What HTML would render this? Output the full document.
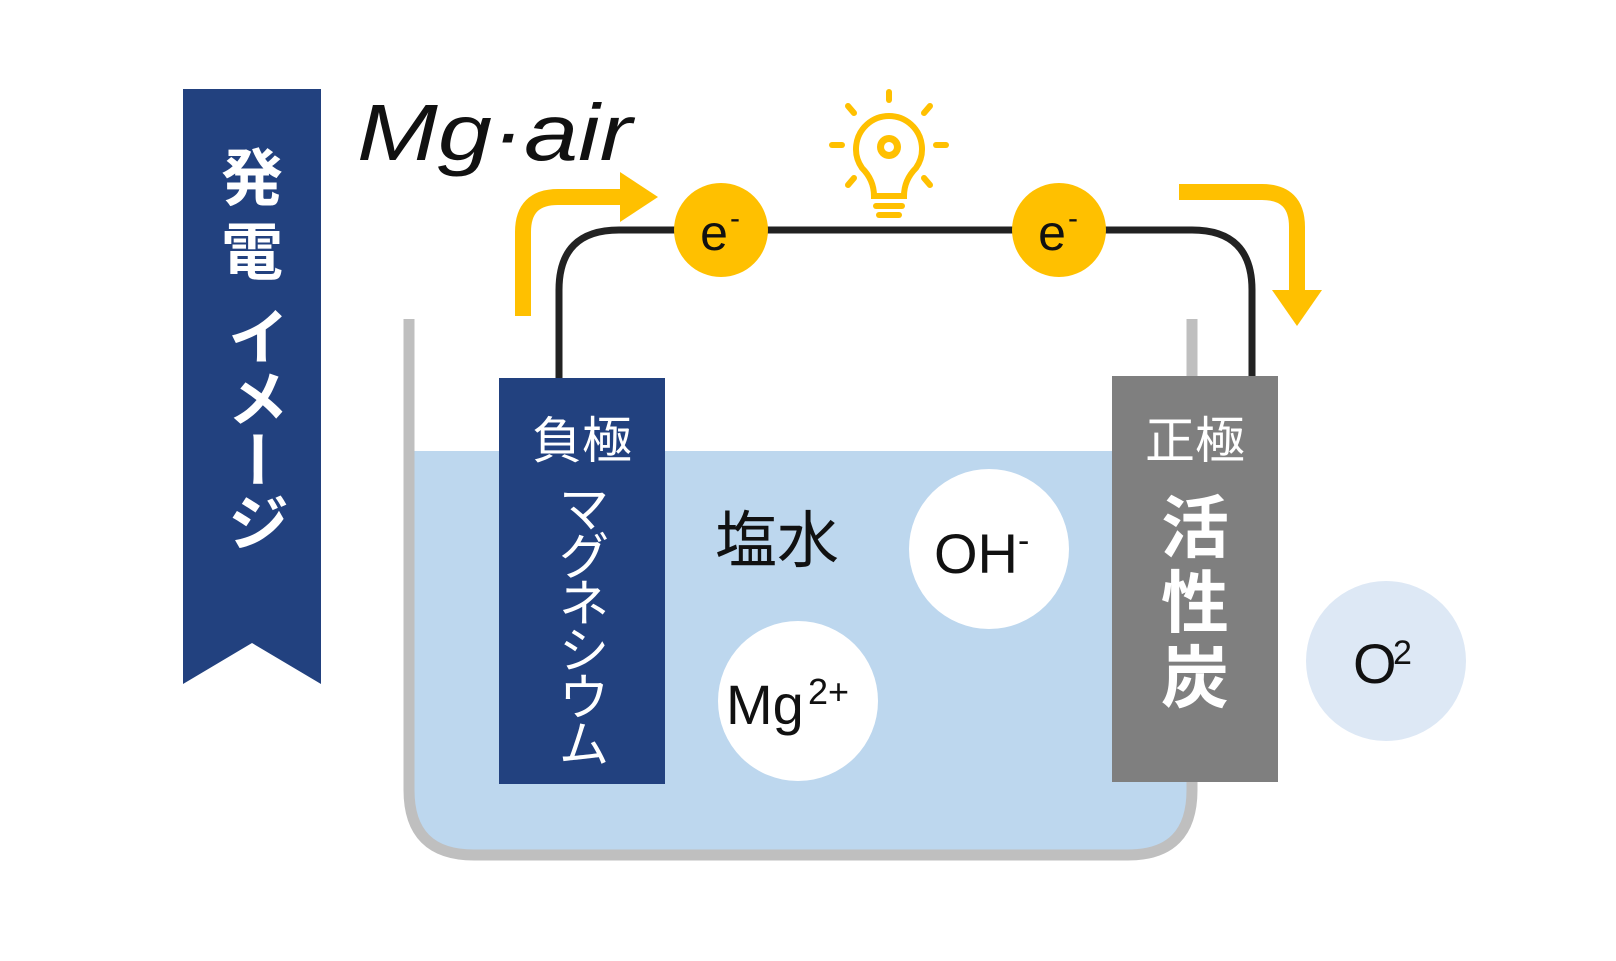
<!DOCTYPE html>
<html><head><meta charset="utf-8"><style>
html,body{margin:0;padding:0;background:#fff;}
svg{display:block;}
text{font-family:"Liberation Sans","Noto Sans CJK JP",sans-serif;}
</style></head><body>
<svg width="1616" height="961" viewBox="0 0 1616 961" xmlns="http://www.w3.org/2000/svg">
<!-- banner -->
<polygon points="183,89 321,89 321,684 252,643 183,684" fill="#22417f"/>
<g fill="#fff" font-size="62" font-weight="bold" text-anchor="middle">
<text x="252" y="200">発</text>
<text x="252" y="274">電</text>
</g>
<text x="252" y="305" fill="#fff" font-size="62" font-weight="bold" style="writing-mode:vertical-rl" text-anchor="start">イメージ</text>
<!-- Mg air -->
<text x="357" y="160" font-size="80" font-style="italic" fill="#111" textLength="275" lengthAdjust="spacingAndGlyphs">Mg·air</text>
<!-- water -->
<path d="M409,451 H1188 V790 Q1188,855 1123,855 H474 Q409,855 409,790 Z" fill="#bdd7ee"/>
<!-- tank -->
<path d="M409,319 V790 Q409,855 474,855 H1128 Q1192,855 1192,790 V319" fill="none" stroke="#bfbfbf" stroke-width="11"/>
<!-- wire -->
<path d="M559,380 V290 Q559,230 619,230 H1192 Q1252,230 1252,290 V380" fill="none" stroke="#222" stroke-width="7"/>
<!-- arrows -->
<path d="M523,316 V232 Q523,197 558,197 H625" fill="none" stroke="#ffc000" stroke-width="16"/>
<polygon points="620,172 658,197 620,222" fill="#ffc000"/>
<path d="M1179,192 H1262 Q1297,192 1297,227 V290" fill="none" stroke="#ffc000" stroke-width="16"/>
<polygon points="1272,290 1322,290 1297,326" fill="#ffc000"/>
<!-- bulb -->
<g stroke="#ffc000" stroke-width="6" fill="none" stroke-linecap="round">
<path d="M874,196 Q874,180 862,168 A33,33 0 1 1 916,168 Q904,180 904,196 Z"/>
<line x1="889" y1="92" x2="889" y2="100"/>
<line x1="848" y1="106" x2="854" y2="113"/>
<line x1="930" y1="106" x2="924" y2="113"/>
<line x1="832" y1="145" x2="842" y2="145"/>
<line x1="936" y1="145" x2="946" y2="145"/>
<line x1="848" y1="185" x2="854" y2="178"/>
<line x1="930" y1="185" x2="924" y2="178"/>
<line x1="876" y1="206" x2="902" y2="206"/>
<line x1="879" y1="215" x2="899" y2="215"/>
</g>
<circle cx="889" cy="147" r="12" fill="#ffc000"/>
<circle cx="889" cy="147" r="5" fill="#fff"/>
<!-- e- -->
<circle cx="721" cy="230" r="47" fill="#ffc000"/>
<circle cx="1059" cy="230" r="47" fill="#ffc000"/>
<text x="714" y="250" font-size="50" text-anchor="middle" fill="#111">e</text><text x="730" y="228" font-size="30" fill="#111">-</text>
<text x="1052" y="250" font-size="50" text-anchor="middle" fill="#111">e</text><text x="1068" y="228" font-size="30" fill="#111">-</text>
<!-- electrodes -->
<rect x="499" y="378" width="166" height="406" fill="#22417f"/>
<rect x="1112" y="376" width="166" height="406" fill="#7f7f7f"/>
<text x="582" y="458" font-size="50" fill="#fff" text-anchor="middle">負極</text>
<g fill="#fff" font-size="50" text-anchor="middle">
<text x="584" y="527">マ</text>
<text x="584" y="574">グ</text>
<text x="584" y="621">ネ</text>
<text x="584" y="668">シ</text>
<text x="584" y="715">ウ</text>
<text x="584" y="762">ム</text>
</g>
<text x="1195" y="458" font-size="50" fill="#fff" text-anchor="middle">正極</text>
<g fill="#fff" font-size="68" font-weight="bold" text-anchor="middle">
<text x="1195" y="552">活</text><text x="1195" y="627">性</text><text x="1195" y="702">炭</text>
</g>
<!-- solution -->
<text x="715" y="562" font-size="62" fill="#111">塩水</text>
<circle cx="989" cy="549" r="80" fill="#fff"/>
<text x="934" y="573" font-size="56" fill="#111">OH</text><text x="1018" y="552" font-size="34" fill="#111">-</text>
<circle cx="798" cy="701" r="80" fill="#fff"/>
<text x="726" y="724" font-size="56" fill="#111">Mg</text><text x="808" y="704" font-size="36" fill="#111">2+</text>
<circle cx="1386" cy="661" r="80" fill="#dde8f5"/>
<text x="1353" y="683" font-size="56" fill="#111">O</text><text x="1393" y="664" font-size="34" fill="#111">2</text>
</svg>
</body></html>
